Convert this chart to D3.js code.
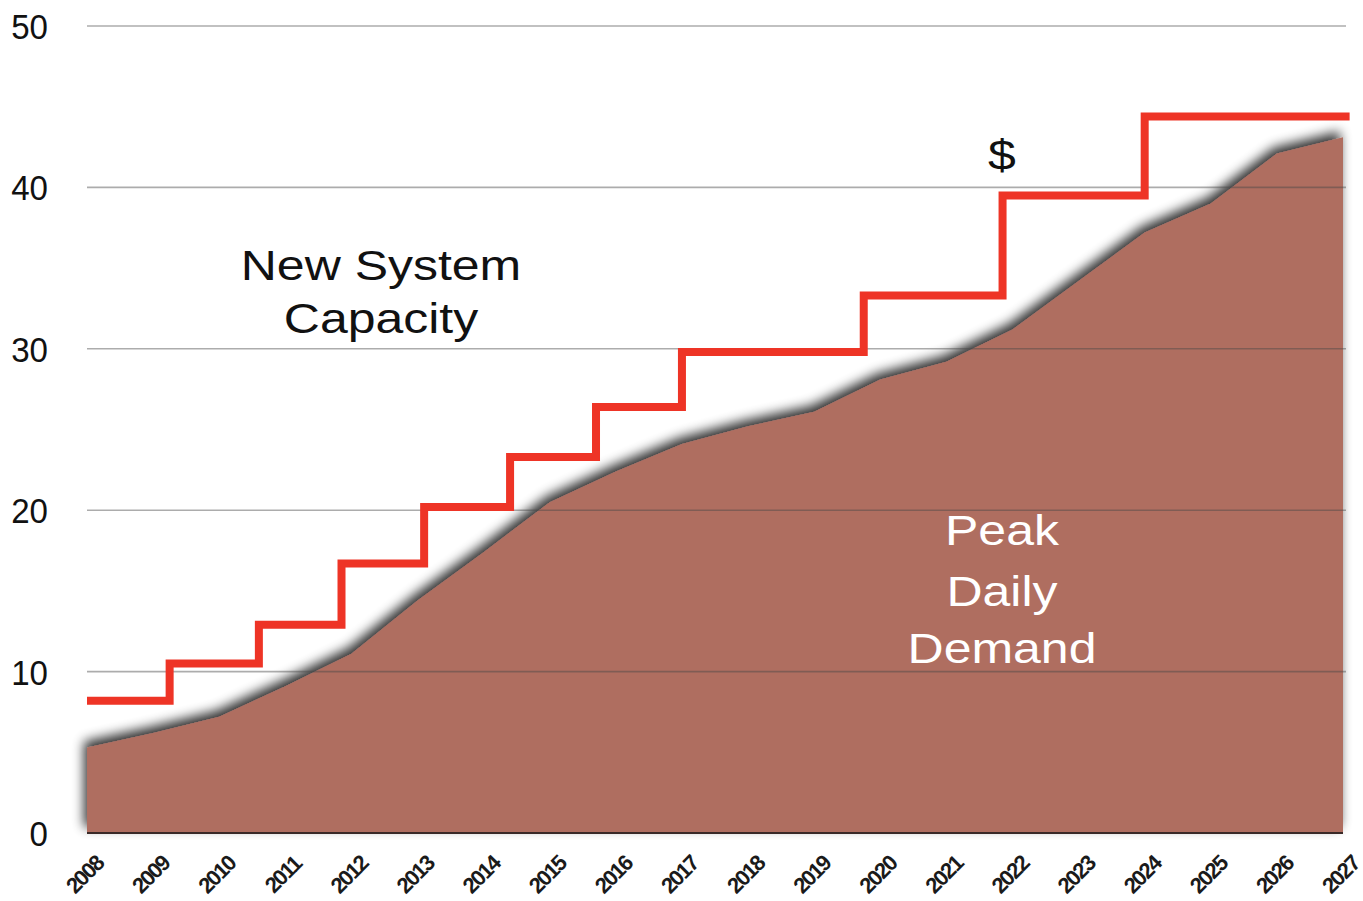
<!DOCTYPE html>
<meta charset="utf-8">
<style>
  body { margin: 0; background: #fff; }
  svg text { font-family: "Liberation Sans", Arial, sans-serif; }
</style>
<body>
<div id="chart"></div>
<script src="https://d3js.org/d3.v7.min.js"></script>
<script>

// demand, one value per year
var years = [2008, 2009, 2010, 2011, 2012, 2013, 2014, 2015, 2016, 2017,
             2018, 2019, 2020, 2021, 2022, 2023, 2024, 2025, 2026, 2027]
var demand = [5.3, 6.2, 7.2, 9.1, 11.1, 14.4, 17.4, 20.5, 22.4, 24.1,
              25.2, 26.1, 28.1, 29.2, 31.2, 34.2, 37.2, 39.0, 42.1, 43.1]

// capacity steps: year where each new level starts
var capYears = [2008, 2009.25, 2010.6, 2011.85, 2013.1, 2014.4, 2015.7, 2017, 2019.75, 2021.85, 2024, 2027.1]
var capacity = [8.2, 10.5, 12.9, 16.7, 20.2, 23.3, 26.4, 29.8, 33.3, 39.5, 44.4, 44.4]

var yTicks = [0, 10, 20, 30, 40, 50]

var width = 1363
    height = 901

var x = d3.scaleLinear().domain([2008, 2027]).range([87, 1343])
var y = d3.scaleLinear().domain([0, 50]).range([833, 26])

var svg = d3.select("#chart")
  .append("svg")
    .attr("width", width)
    .attr("height", height)

// blurred shadow behind the demand area
var defs = svg.append("defs")
var f = defs.append("filter").attr("id", "shadow")
  .attr("x", "-5%").attr("y", "-5%").attr("width", "110%").attr("height", "110%")
f.append("feGaussianBlur").attr("in", "SourceAlpha").attr("stdDeviation", 6).attr("result", "b")
f.append("feOffset").attr("in", "b").attr("dx", -3).attr("dy", -6).attr("result", "o")
f.append("feComponentTransfer").attr("in", "o").attr("result", "s")
  .append("feFuncA").attr("type", "linear").attr("slope", 0.8)
var m = f.append("feMerge")
m.append("feMergeNode").attr("in", "s")
m.append("feMergeNode").attr("in", "SourceGraphic")

var area = d3.area()
  .x(function(d, i) { return x(years[i]) })
  .y0(y(0))
  .y1(function(d) { return y(d) })

svg.append("path")
  .datum(demand)
  .attr("d", area)
  .attr("fill", "#af6e61")
  .attr("filter", "url(#shadow)")

// gridlines over the area
svg.selectAll(".grid")
  .data(yTicks.slice(1))
  .enter()
  .append("line")
    .attr("x1", 87)
    .attr("x2", 1346)
    .attr("y1", function(d) { return y(d) })
    .attr("y2", function(d) { return y(d) })
    .attr("stroke", "rgba(70,70,70,0.45)")
    .attr("stroke-width", 1.6)

svg.append("line")
  .attr("x1", 87).attr("x2", 1343)
  .attr("y1", y(0)).attr("y2", y(0))
  .attr("stroke", "#3a2a28")
  .attr("stroke-width", 2)

// y labels
svg.selectAll(".ylab")
  .data(yTicks)
  .enter()
  .append("text")
    .attr("transform", function(d) { return "translate(48," + (y(d) + 13) + ") scale(0.92,1)" })
    .attr("text-anchor", "end")
    .attr("font-size", 36)
    .attr("fill", "#111")
    .text(function(d) { return d })

// x labels
svg.selectAll(".xlab")
  .data(years)
  .enter()
  .append("text")
    .attr("transform", function(d) { return "translate(" + (x(d) + 3) + ",880) rotate(-45)" })
    .attr("text-anchor", "middle")
    .attr("font-size", 22)
    .attr("font-weight", "bold")
    .attr("letter-spacing", -1.8)
    .attr("fill", "#1a1a1a")
    .text(function(d) { return d })

// capacity step line
var line = d3.line()
  .x(function(d, i) { return x(capYears[i]) })
  .y(function(d) { return y(d) })
  .curve(d3.curveStepAfter)

svg.append("path")
  .datum(capacity)
  .attr("d", line)
  .attr("fill", "none")
  .attr("stroke", "#ee3426")
  .attr("stroke-width", 8)

// annotations
function label(txt, cx, cy, size, color) {
  svg.append("text")
    .attr("transform", "translate(" + cx + "," + cy + ") scale(1.19,1)")
    .attr("text-anchor", "middle")
    .attr("font-size", size)
    .attr("fill", color)
    .text(txt)
}
label("New System", 381, 280, 42, "#111")
label("Capacity", 381, 333, 42, "#111")
label("$", 1002, 170, 42, "#111")
label("Peak", 1002, 545, 42, "#fff")
label("Daily", 1002, 606, 42, "#fff")
label("Demand", 1002, 663, 42, "#fff")

</script>
